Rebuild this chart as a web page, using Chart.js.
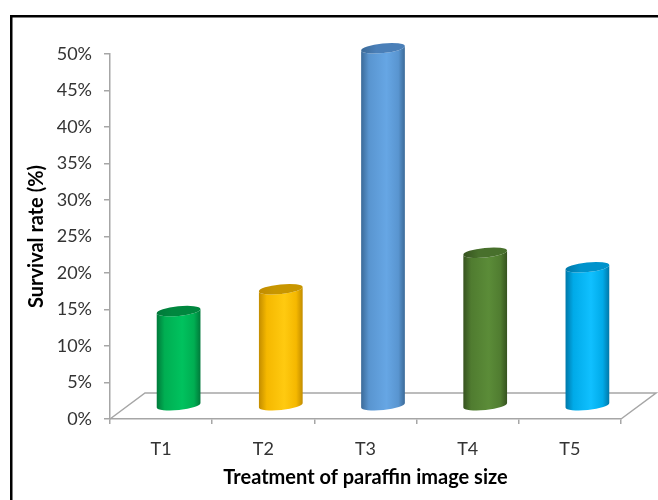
<!DOCTYPE html>
<html>
<head>
<meta charset="utf-8">
<script src="https://cdn.jsdelivr.net/npm/chart.js@4.4.1/dist/chart.umd.min.js"></script>
<style>
  html, body { margin: 0; padding: 0; background: #ffffff; }
  #wrap { width: 658px; height: 500px; position: relative; }
</style>
</head>
<body>
<div id="wrap"><canvas id="chart" width="658" height="500"></canvas></div>
<script>
// Survival rate per paraffin image-size treatment (percent)
const categories = ['T1', 'T2', 'T3', 'T4', 'T5'];
const survivalRate = [13, 16, 49, 21, 19];
const yTickValues = [0, 5, 10, 15, 20, 25, 30, 35, 40, 45, 50];

// Cylinder shading: dark edge, body, highlight, top cap
const palette = [
  { edge: '#00793A', body: '#00AE52', hi: '#00C25E', cap: '#00873E' },
  { edge: '#C28C00', body: '#F5B800', hi: '#FFCA10', cap: '#C89600' },
  { edge: '#3B6A98', body: '#5995D0', hi: '#66A6E4', cap: '#4A7FB8' },
  { edge: '#36521F', body: '#507C30', hi: '#5B8C38', cap: '#48702C' },
  { edge: '#0077A8', body: '#00AAE8', hi: '#10C0FF', cap: '#0093CC' }
];

// 3D floor depth offset (px)
const DEPTH_X = 35;
const DEPTH_Y = -26;

const framePlugin = {
  id: 'frame',
  beforeDraw(chart) {
    const ctx = chart.ctx;
    ctx.save();
    ctx.fillStyle = '#ffffff';
    ctx.fillRect(0, 0, chart.width, chart.height);
    ctx.fillStyle = '#000000';
    ctx.fillRect(10, 15, 2.5, chart.height);
    ctx.fillRect(10, 15, chart.width, 2.5);
    ctx.restore();
  }
};

const floorPlugin = {
  id: 'floor',
  beforeDatasetsDraw(chart) {
    const { ctx, chartArea } = chart;
    const { left, right, bottom } = chartArea;
    ctx.save();
    ctx.strokeStyle = '#A6A6A6';
    ctx.lineWidth = 1.5;
    ctx.beginPath();
    ctx.moveTo(left, bottom);
    ctx.lineTo(left + DEPTH_X, bottom + DEPTH_Y);
    ctx.lineTo(right + DEPTH_X, bottom + DEPTH_Y);
    ctx.lineTo(right, bottom);
    ctx.stroke();
    ctx.restore();
  }
};

const cylinderPlugin = {
  id: 'cylinders',
  afterDatasetsDraw(chart) {
    const ctx = chart.ctx;
    const meta = chart.getDatasetMeta(0);
    meta.data.forEach((bar, i) => {
      const p = bar.getProps(['x', 'y', 'base', 'width'], true);
      const c = palette[i % palette.length];
      const cx = p.x + DEPTH_X / 2;
      const top = p.y + DEPTH_Y / 2;
      const base = p.base + DEPTH_Y / 2;
      const rx = p.width / 2;
      const ry = 4.8;
      const rot = -0.1;
      const ex = rx * Math.cos(rot);
      const ey = rx * Math.sin(rot);

      ctx.save();
      // side of the cylinder
      const g = ctx.createLinearGradient(cx - rx, 0, cx + rx, 0);
      g.addColorStop(0, c.edge);
      g.addColorStop(0.18, c.body);
      g.addColorStop(0.58, c.hi);
      g.addColorStop(0.85, c.body);
      g.addColorStop(1, c.edge);
      ctx.fillStyle = g;
      ctx.beginPath();
      ctx.moveTo(cx - ex, top - ey);
      ctx.lineTo(cx - ex, base - ey);
      ctx.ellipse(cx, base, rx, ry, rot, Math.PI, 0, true);
      ctx.lineTo(cx + ex, top + ey);
      ctx.ellipse(cx, top, rx, ry, rot, 0, Math.PI, false);
      ctx.closePath();
      ctx.fill();

      // top cap
      const tg = ctx.createLinearGradient(cx - rx, 0, cx + rx, 0);
      tg.addColorStop(0, c.edge);
      tg.addColorStop(0.35, c.cap);
      tg.addColorStop(1, c.cap);
      ctx.fillStyle = tg;
      ctx.beginPath();
      ctx.ellipse(cx, top, rx, ry, rot, 0, Math.PI * 2);
      ctx.fill();
      ctx.restore();
    });
  }
};

new Chart(document.getElementById('chart'), {
  type: 'bar',
  data: {
    labels: categories,
    datasets: [{
      label: 'Survival rate',
      data: survivalRate,
      backgroundColor: 'rgba(0,0,0,0)',
      borderWidth: 0,
      categoryPercentage: 1.0,
      barPercentage: 0.43
    }]
  },
  options: {
    responsive: false,
    animation: false,
    devicePixelRatio: 1,
    layout: { padding: { left: 20, top: 54, right: 37, bottom: 0 } },
    plugins: {
      legend: { display: false },
      tooltip: { enabled: false }
    },
    scales: {
      x: {
        afterFit(scale) { scale.height = 81; },
        border: { display: true, color: '#A6A6A6', width: 1.5 },
        grid: {
          display: true,
          offset: true,
          drawOnChartArea: false,
          drawTicks: true,
          tickLength: 5,
          color: '#A6A6A6',
          lineWidth: 1.5
        },
        ticks: {
          color: '#333333',
          padding: 14,
          font: { family: 'Lato', size: 18 }
        },
        title: {
          display: true,
          text: 'Treatment of paraffin image size',
          color: '#000000',
          padding: { top: 0, bottom: 10 },
          font: { family: 'Lato', size: 20, weight: 'bold' }
        }
      },
      y: {
        min: 0,
        max: 50,
        afterFit(scale) { scale.width = 90; },
        afterBuildTicks(scale) { scale.ticks = yTickValues.map(v => ({ value: v })); },
        border: { display: true, color: '#A6A6A6', width: 1.5 },
        grid: {
          display: true,
          drawOnChartArea: false,
          drawTicks: true,
          tickLength: 6,
          color: '#A6A6A6',
          lineWidth: 1.5
        },
        ticks: {
          color: '#333333',
          padding: 12,
          font: { family: 'Lato', size: 18 },
          callback: v => v + '%'
        },
        title: {
          display: true,
          text: 'Survival rate (%)',
          color: '#000000',
          padding: { top: 5, bottom: 0 },
          font: { family: 'Lato', size: 20, weight: 'bold' }
        }
      }
    }
  },
  plugins: [framePlugin, floorPlugin, cylinderPlugin]
});
</script>
</body>
</html>
